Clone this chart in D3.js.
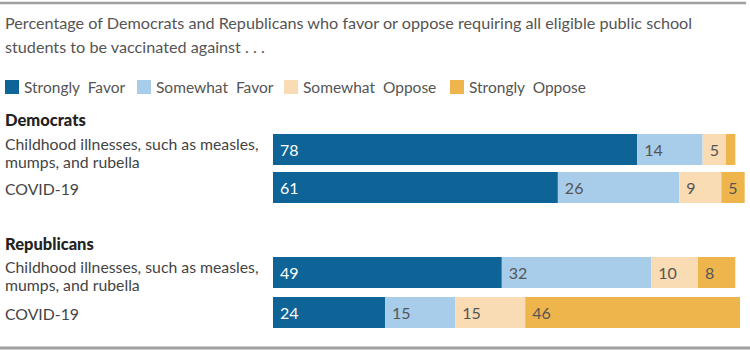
<!DOCTYPE html>
<html>
<head>
<meta charset="utf-8">
<script src="https://cdn.jsdelivr.net/npm/d3@7"></script>
<style>
  body { margin: 0; background: #fff; }
  text { font-family: Lato, "Open Sans", sans-serif; }
</style>
</head>
<body>
<div id="chart"></div>
<script>
var W = 750, H = 352;

// data
var categories = ['Strongly Favor', 'Somewhat Favor', 'Somewhat Oppose', 'Strongly Oppose'];
var colors = ['#0e6496', '#a8cdea', '#f9dcb4', '#eeb54c'];
var groups = ['Democrats', 'Republicans'];
var rowLabels = [['Childhood illnesses, such as measles,', 'mumps, and rubella'], ['COVID-19']];
var demValues = [[78, 14, 5, 2], [61, 26, 9, 5]];
var repValues = [[49, 32, 10, 8], [24, 15, 15, 46]];
var shownLabels = [[true, true, true, false], [true, true, true, true]]; // dem row 1 last bit too small

var svg = d3.select('#chart').append('svg')
	.attr('width', W)
	.attr('height', H);

// frame lines
svg.append('line').attr('x1', 0).attr('x2', 746).attr('y1', 3).attr('y2', 3)
	.attr('stroke', '#a0a0a0').attr('stroke-width', 2.5);
svg.append('line').attr('x1', 0).attr('x2', 750).attr('y1', 348).attr('y2', 348)
	.attr('stroke', '#a0a0a0').attr('stroke-width', 3);

// title
var title = ['Percentage of Democrats and Republicans who favor or oppose requiring all eligible public school',
	'students to be vaccinated against . . .'];
svg.selectAll('.title').data(title).enter().append('text')
	.attr('class', 'title')
	.attr('x', 5)
	.attr('y', function(d, i) { return 29 + i * 24; })
	.attr('fill', '#555')
	.style('font-size', '16.2px')
	.text(function(d) { return d; });

// legend
var legendX = [5, 137, 284, 450];
var lg = svg.selectAll('.legend').data(categories).enter().append('g')
	.attr('class', 'legend')
	.attr('transform', function(d, i) { return 'translate(' + legendX[i] + ',80)'; });
lg.append('rect')
	.attr('width', 14).attr('height', 14)
	.attr('fill', function(d, i) { return colors[i]; });
lg.append('text')
	.attr('x', 19).attr('y', 13)
	.attr('fill', '#555')
	.style('font-size', '15.5px')
	.style('word-spacing', '4px')
	.text(function(d) { return d; });

var x = d3.scaleLinear().domain([0, 100]).range([273, 740]);

var sections = [
	{ name: groups[0], values: demValues, headY: 126, barY: [134, 172] },
	{ name: groups[1], values: repValues, headY: 250, barY: [257, 297] }
];
var barH = 31;

sections.forEach(function(sec, si) {
	svg.append('text')
		.attr('x', 5).attr('y', sec.headY)
		.attr('fill', '#222')
		.style('font-size', '16.5px')
		.style('font-weight', 900)
		.text(sec.name);

	sec.values.forEach(function(vals, ri) {
		var y0 = sec.barY[ri];
		var lines = rowLabels[ri];
		var cy = y0 + barH / 2;
		var lineY = lines.length == 2 ? [y0 + 16, y0 + 34] : [cy + 7];
		svg.append('g').selectAll('text').data(lines).enter().append('text')
			.attr('x', 5)
			.attr('y', function(d, i) { return lineY[i]; })
			.attr('fill', '#444')
			.style('font-size', '15.8px')
			.text(function(d) { return d; });

		var cum = 0;
		var segs = vals.map(function(v, k) {
			var s = { v: v, start: cum, k: k };
			cum += v;
			return s;
		});
		var g = svg.append('g');
		g.selectAll('rect').data(segs).enter().append('rect')
			.attr('x', function(d) { return x(d.start); })
			.attr('y', y0)
			.attr('width', function(d) { return x(d.start + d.v) - x(d.start); })
			.attr('height', barH)
			.attr('fill', function(d) { return colors[d.k]; });
		g.selectAll('text').data(segs.filter(function(d) {
			return si == 1 || shownLabels[ri][d.k];
		})).enter().append('text')
			.attr('x', function(d) { return x(d.start) + 7; })
			.attr('y', cy + 6)
			.attr('fill', function(d) { return d.k == 0 ? '#fff' : '#555'; })
			.style('font-size', '16px')
			.text(function(d) { return d.v; });
	});
});
</script>
</body>
</html>
